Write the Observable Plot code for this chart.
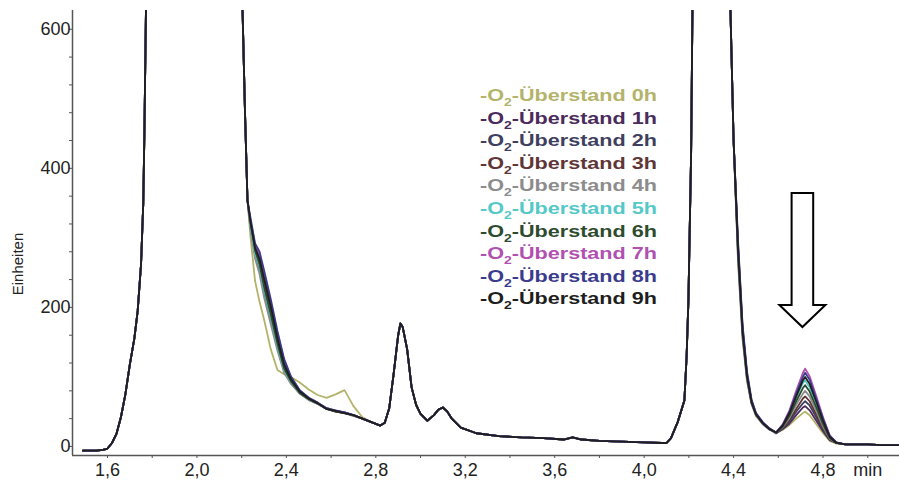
<!DOCTYPE html>
<html><head><meta charset="utf-8">
<script src="https://cdn.jsdelivr.net/npm/d3@7"></script>
<script src="https://cdn.jsdelivr.net/npm/@observablehq/plot@0.6"></script>
<style>
body{margin:0;background:#fff;}
#wrap{position:relative;width:899px;height:484px;font-family:"Liberation Sans",Arial,sans-serif;}
#legend{position:absolute;left:480px;top:85px;transform:scaleX(1.27);transform-origin:0 0;}
.row{height:22.6px;line-height:22.6px;font-size:17px;font-weight:bold;white-space:nowrap;}
.row sub{font-size:11px;vertical-align:-5px;line-height:0;}
</style></head><body><div id="wrap"></div>
<script>
// Series (legend) names and colours
const seriesNames = ["0h","1h","2h","3h","4h","5h","6h","7h","8h","9h"];
const seriesColors = ["#b3b36a","#4b2b5b","#3f3f60","#5f3535","#8c8c8c","#55c8c8","#2e4b2e","#b050b0","#3b3b8e","#1e1e1e"];

// Segment 1 (shared): baseline and solvent peak (min, Einheiten)
const x1 = [1.49,1.55,1.58,1.60,1.62,1.64,1.66,1.68,1.70,1.72,1.735,1.75,1.76,1.765,1.772,1.78,1.80,2.17,2.19,2.204,2.215,2.226];
const y1 = [-6,-6,-5,-3,5,18,42,75,118,155,195,262,350,450,627,900,1500,1500,900,627,480,354];

// Segment 2 (per series): tail of solvent peak with shoulder
const x2 = [2.24,2.26,2.28,2.30,2.33,2.36,2.39,2.42,2.46,2.50,2.54,2.58,2.62,2.66,2.70,2.74,2.78];
const shoulder0h = [300,238,208,183,140,110,104,100,92,82,74,70,75,81,58,42,35];
const shoulder1h = [322,285,268,240,200,158,120,98,79,69,62,55,51,48,45,40,35];
const shoulder2h = [318,282,266,236,196,152,116,96,78,68,62,54,51,49,45,40,35];
const shoulder3h = [315,276,255,222,182,142,108,92,76,67,61,54,50,48,44,40,35];
const shoulder4h = [310,270,248,215,176,138,106,90,76,67,61,54,51,48,45,40,35];
const shoulder5h = [316,278,258,226,186,145,110,93,77,68,62,54,51,49,45,40,35];
const shoulder6h = [320,282,262,230,190,148,112,94,77,68,62,54,50,48,45,40,35];
const shoulder7h = [324,290,274,246,206,162,124,100,80,70,63,55,51,49,45,40,35];
const shoulder8h = [328,292,280,254,212,166,126,101,81,70,63,55,52,49,45,40,35];
const shoulder9h = [322,286,270,242,202,156,118,97,79,69,62,54,51,48,45,40,35];
const shoulders = [shoulder0h,shoulder1h,shoulder2h,shoulder3h,shoulder4h,shoulder5h,shoulder6h,shoulder7h,shoulder8h,shoulder9h];

// Segment 3 (shared): peaks at 2.9 and 3.1, baseline, main peak at 4.3
const x3 = [2.82,2.84,2.86,2.88,2.90,2.91,2.92,2.94,2.96,2.98,3.00,3.03,3.06,3.08,3.10,3.12,3.14,3.18,3.25,3.35,3.45,3.55,3.64,3.68,3.72,3.80,3.90,4.00,4.08,4.10,4.12,4.15,4.18,4.19,4.198,4.21,4.216,4.23,4.26,4.34,4.37,4.386,4.40];
const y3 = [30,34,55,105,160,177,172,140,85,60,47,37,45,53,56,50,40,27,19,15,13,12,10,13,10,8,7,6,5,5,12,35,66,130,210,420,627,1000,1600,1600,1000,627,440];

// Segment 4 (per series): peak at 4.7 that grows
const x4 = [4.42,4.44,4.46,4.48,4.50,4.53,4.56,4.59,4.62,4.65,4.68,4.71,4.72,4.74,4.77,4.80,4.83,4.86];
const late0h = [270,158,96,62,45,33,25,19,24,31,40,48,50,45,32,19,8,4];
const late1h = [285,168,102,65,47,34,25,19,25,33,45,56,58,52,37,22,9,5];
const late2h = [290,172,104,66,47,34,26,19,26,36,50,62,65,59,42,24,10,5];
const late3h = [275,162,98,63,46,33,25,20,27,38,54,69,72,65,46,26,10,5];
const late4h = [265,155,94,61,44,32,24,20,28,41,60,76,80,72,51,29,11,5];
const late5h = [280,165,100,64,46,34,25,20,30,47,70,91,95,85,60,34,13,5];
const late6h = [278,163,99,63,46,33,25,20,29,44,65,84,88,79,56,32,12,5];
const late7h = [288,170,104,66,48,35,26,20,32,52,80,106,112,101,72,42,16,6];
const late8h = [295,176,108,68,48,35,26,20,31,50,76,100,106,96,68,40,15,6];
const late9h = [282,166,101,64,46,34,25,20,30,48,72,95,100,90,64,37,14,5];
const lates = [late0h,late1h,late2h,late3h,late4h,late5h,late6h,late7h,late8h,late9h];

// Segment 5 (shared): final baseline
const x5 = [4.90,4.95,5.00,5.06,5.14];
const y5 = [3,3,3,2,2];

// Axes
const xLabelTicks = [1.6,2.0,2.4,2.8,3.2,3.6,4.0,4.4,4.8,5.0];
const xMinorTicks = [1.6,1.8,2.0,2.2,2.4,2.6,2.8,3.0,3.2,3.4,3.6,3.8,4.0,4.2,4.4,4.6,4.8,5.0];
const yLabelTicks = [0,200,400,600];
const yMinorTicks = [0,40,80,120,160,200,240,280,320,360,400,440,480,520,560,600];
const xUnit = "min";
const yTitle = "Einheiten";
const legendPrefix = "-O";
const legendSub = "2";
const legendWord = "-Überstand ";
const arrowAt = 4.71, arrowTipValue = 171;

const xDomain = [1.4435, 5.142];
const yDomain = [-13, 627];

const rows = [];
seriesNames.forEach((s, i) => {
  const xs = [...x1, ...x2, ...x3, ...x4, ...x5];
  const ys = [...y1, ...shoulders[i], ...y3, ...lates[i], ...y5];
  xs.forEach((t, k) => rows.push({series: s, t, v: ys[k]}));
});

const fmt = d => Math.abs(d - 5.0) < 1e-9 ? xUnit : d.toFixed(1).replace(".", ",");

const plot = Plot.plot({
  width: 899, height: 484,
  marginLeft: 72, marginRight: 0, marginTop: 10, marginBottom: 29,
  x: {domain: xDomain},
  y: {domain: yDomain},
  color: {domain: seriesNames, range: seriesColors},
  style: {fontFamily: "Liberation Sans, Arial, sans-serif", fontSize: "18px", background: "white", color: "#222"},
  marks: [
    Plot.line(rows, {x: "t", y: "v", z: "series", stroke: "series", strokeWidth: 1.8, clip: true}),
    Plot.ruleX([xDomain[0]], {stroke: "#555", strokeWidth: 1.5}),
    Plot.ruleY([yDomain[0]], {stroke: "#555", strokeWidth: 1.5}),
    Plot.axisX({ticks: xMinorTicks, tickSize: 3, tickFormat: () => "", label: null, stroke: "#555"}),
    Plot.axisX({ticks: xLabelTicks, tickSize: 0, tickPadding: 8, tickFormat: fmt, label: null, fontSize: 18}),
    Plot.axisY({ticks: yMinorTicks, tickSize: 3, tickFormat: () => "", label: null, stroke: "#555"}),
    Plot.axisY({ticks: yLabelTicks, tickSize: 0, tickPadding: 2, tickFormat: d => String(d), label: null, fontSize: 18}),
    Plot.text([yTitle], {text: d => d, frameAnchor: "left", textAnchor: "middle", rotate: -90, dx: -54, dy: 31, fontSize: 15, fill: "#222"})
  ]
});

document.getElementById("wrap").appendChild(plot);

// Arrow annotation pointing at the growing peak
const sx = plot.scale("x"), sy = plot.scale("y");
const cx = sx.apply(arrowAt), tip = sy.apply(arrowTipValue);
const p = [[cx-10.8,tip-134],[cx+10.8,tip-134],[cx+10.8,tip-22],[cx+23,tip-22],[cx,tip],[cx-23,tip-22],[cx-10.8,tip-22]];
d3.select(plot).append("path")
  .attr("d", "M" + p.map(q => q.join(",")).join("L") + "Z")
  .attr("fill", "white").attr("stroke", "black").attr("stroke-width", 2).attr("stroke-linejoin", "miter");

// Legend
const legend = d3.select("#wrap").append("div").attr("id", "legend");
seriesNames.forEach((n, i) => {
  const row = legend.append("div").attr("class", "row").style("color", seriesColors[i]);
  row.append("span").text(legendPrefix);
  row.append("sub").text(legendSub);
  row.append("span").text(legendWord + n);
});
</script></body></html>
